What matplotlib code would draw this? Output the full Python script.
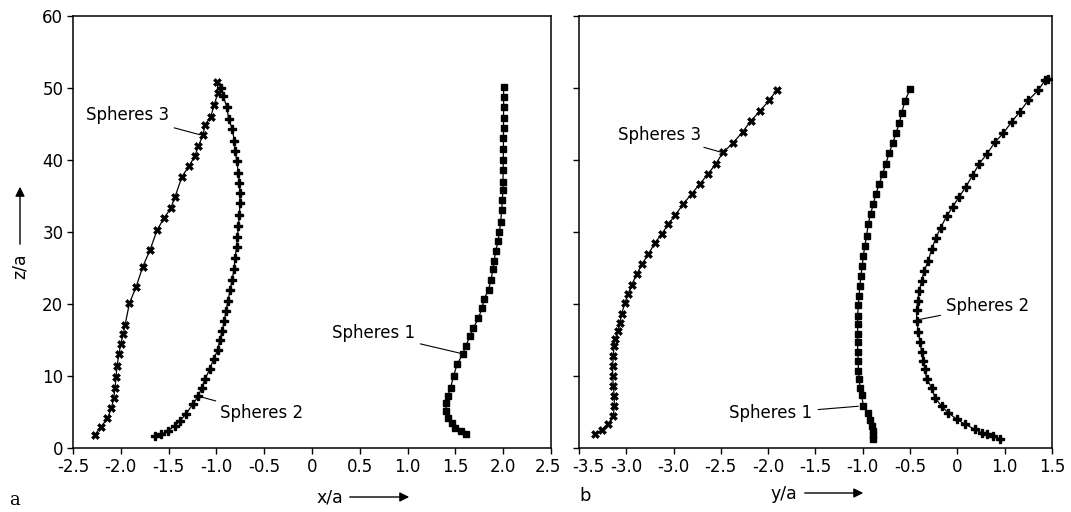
import matplotlib
matplotlib.use("Agg")
import matplotlib.pyplot as plt
import matplotlib.transforms as mtransforms
import numpy as np

# ---------------- data (panel a: x/a vs z/a) ----------------
a_s1_x = [1.61, 1.555, 1.497, 1.462, 1.42, 1.40, 1.406, 1.42, 1.45, 1.48, 1.517, 1.574, 1.61, 1.65,
          1.684, 1.74, 1.778, 1.80, 1.847, 1.873, 1.892, 1.905, 1.92, 1.946, 1.96, 1.973, 1.985, 1.99,
          1.997, 1.997, 2.0, 2.0, 2.002, 2.002, 2.003, 2.003, 2.004, 2.004, 2.004]
a_s1_z = [2.0, 2.3, 2.8, 3.5, 4.2, 5.2, 6.3, 7.2, 8.4, 10.0, 11.6, 13.0, 14.2, 15.5,
          16.6, 18.0, 19.4, 20.7, 22.0, 23.4, 24.8, 26.0, 27.3, 28.7, 30.0, 31.4, 33.1, 34.5,
          35.8, 37.0, 38.6, 40.0, 41.5, 43.0, 44.4, 45.9, 47.3, 48.8, 50.2]

a_s2_x = [-1.64, -1.58, -1.507, -1.433, -1.38, -1.32, -1.246, -1.19, -1.153, -1.12, -1.067, -1.03,
          -0.985, -0.967, -0.94, -0.92, -0.90, -0.88, -0.856, -0.836, -0.816, -0.805, -0.79, -0.78,
          -0.77, -0.76, -0.753, -0.753, -0.76, -0.77, -0.787, -0.805, -0.813, -0.835, -0.873, -0.89,
          -0.93, -0.95]
a_s2_z = [1.6, 1.9, 2.4, 3.1, 3.8, 4.7, 6.1, 7.2, 8.4, 9.6, 11.0, 12.4,
          13.6, 15.0, 16.2, 17.6, 19.0, 20.4, 22.0, 23.4, 24.8, 26.4, 27.9, 29.3,
          30.8, 32.4, 34.0, 35.4, 36.8, 38.2, 39.8, 41.3, 42.7, 44.3, 45.7, 47.3,
          48.9, 50.0]

a_s3_x = [-2.274, -2.21, -2.14, -2.10, -2.075, -2.06, -2.05, -2.04, -2.02, -2.0, -1.975, -1.956,
          -1.91, -1.84, -1.77, -1.695, -1.62, -1.55, -1.478, -1.433, -1.36, -1.29, -1.228, -1.19,
          -1.14, -1.12, -1.06, -1.025, -0.985, -0.99]
a_s3_z = [1.8, 2.9, 4.1, 5.5, 6.9, 8.4, 9.9, 11.4, 13.0, 14.5, 15.8, 17.1,
          20.1, 22.4, 25.2, 27.5, 30.3, 31.9, 33.3, 34.9, 37.7, 39.1, 40.5, 41.9,
          43.5, 44.9, 46.0, 47.6, 49.3, 50.9]

# ---------------- data (panel b: y/a vs z/a) ----------------
b_s1_x = [-0.389, -0.389, -0.395, -0.406, -0.424, -0.442, -0.494, -0.512, -0.53, -0.537, -0.547,
          -0.547, -0.554, -0.554, -0.554, -0.554, -0.554, -0.547, -0.54, -0.53, -0.52, -0.505,
          -0.494, -0.477, -0.459, -0.442, -0.416, -0.389, -0.36, -0.325, -0.29, -0.255, -0.22,
          -0.184, -0.149, -0.114, -0.089, -0.054, -0.001]
b_s1_z = [1.3, 1.8, 2.3, 3.0, 3.9, 4.8, 5.9, 7.3, 8.4, 9.6, 10.7,
          12.1, 13.3, 14.7, 15.8, 17.2, 18.4, 19.8, 21.1, 22.5, 23.9, 25.3,
          26.7, 28.1, 29.5, 31.1, 32.5, 33.9, 35.3, 36.7, 38.1, 39.5, 41.0,
          42.3, 43.7, 45.1, 46.5, 48.2, 49.8]

b_s2_x = [0.95, 0.88, 0.81, 0.757, 0.686, 0.58, 0.493, 0.404, 0.334, 0.263, 0.228, 0.175, 0.157,
          0.14, 0.122, 0.105, 0.087, 0.07, 0.07, 0.08, 0.097, 0.122, 0.15, 0.193, 0.228, 0.274,
          0.323, 0.387, 0.45, 0.52, 0.591, 0.662, 0.732, 0.816, 0.898, 0.985, 1.074, 1.162, 1.25,
          1.356, 1.427, 1.46]
b_s2_z = [1.3, 1.6, 1.9, 2.1, 2.6, 3.3, 4.0, 4.9, 5.8, 7.0, 8.4, 9.6, 11.0,
          12.1, 13.3, 14.7, 16.1, 17.7, 19.1, 20.4, 21.8, 23.2, 24.6, 26.0, 27.6, 29.2,
          30.6, 32.2, 33.5, 34.9, 36.3, 37.9, 39.5, 40.9, 42.5, 43.7, 45.3, 46.7, 48.3,
          49.7, 51.1, 51.2]

b_s3_x = [-3.33, -3.26, -3.19, -3.137, -3.127, -3.127, -3.137, -3.144, -3.144, -3.137, -3.13,
          -3.12, -3.085, -3.067, -3.05, -3.014, -2.98, -2.943, -2.89, -2.837, -2.767, -2.697,
          -2.626, -2.556, -2.485, -2.397, -2.309, -2.221, -2.133, -2.052, -1.975, -1.875, -1.77,
          -1.685, -1.587, -1.488, -1.41]
b_s3_z = [2.0, 2.5, 3.4, 4.4, 5.8, 7.2, 8.6, 10.0, 11.4, 12.8, 14.2,
          15.1, 16.3, 17.4, 18.6, 20.2, 21.4, 22.7, 24.1, 25.5, 26.9, 28.5,
          29.7, 31.1, 32.3, 33.9, 35.3, 36.7, 38.1, 39.5, 41.1, 42.3, 43.9,
          45.4, 46.8, 48.3, 49.7]

a_xticks = [-2.5, -2.0, -1.5, -1.0, -0.5, 0, 0.5, 1.0, 1.5, 2.0, 2.5]
a_xlabels = ["-2.5", "-2.0", "-1.5", "-1.0", "-0.5", "0", "0.5", "1.0", "1.5", "2.0", "2.5"]
b_xticks = [-3.5, -3.0, -2.5, -2.0, -1.5, -1.0, -0.5, 0, 0.5, 1.0, 1.5]
b_xlabels = ["-3.5", "-3.0", "-3.0", "-2.5", "-2.0", "-1.5", "-1.0", "-0.5", "0", "1.0", "1.5"]
z_ticks = [0, 10, 20, 30, 40, 50, 60]
z_labels = ["0", "10", "20", "30", "40", "50", "60"]

# ---------------- figure ----------------
plt.rcParams['font.family'] = ['DejaVu Sans']
fig = plt.figure(figsize=(10.71, 5.12), dpi=100)
axa = fig.add_axes([0.0682, 0.125, 0.4463, 0.84375])
axb = fig.add_axes([0.5406, 0.125, 0.4416, 0.84375])

sq = dict(color='black', lw=0.9, marker='s', ms=4.4, mfc='black', mec='black')
pl = dict(color='black', lw=0.9, marker='P', ms=5.8, mfc='black', mec='black')
xx = dict(color='black', lw=0.9, marker='X', ms=5.2, mfc='black', mec='black', mew=0.4)

axa.plot(a_s1_x, a_s1_z, **sq)
axa.plot(a_s2_x, a_s2_z, **pl)
axa.plot(a_s3_x, a_s3_z, **xx)
axb.plot(b_s1_x, b_s1_z, **sq)
axb.plot(b_s2_x, b_s2_z, **pl)
axb.plot(b_s3_x, b_s3_z, **xx)

for ax in (axa, axb):
    ax.set_ylim(0, 60)
    ax.set_yticks(z_ticks)
    ax.tick_params(direction='out', length=4, width=1, labelsize=12, pad=3)
    for s in ax.spines.values():
        s.set_linewidth(1.1)

axa.set_xlim(-2.5, 2.5)
axa.set_xticks(a_xticks)
axa.set_xticklabels(a_xlabels)
axa.set_yticklabels(z_labels)

axb.set_xlim(-3.5, 1.5)
axb.set_xticks(b_xticks)
axb.set_xticklabels(b_xlabels)
axb.set_yticklabels([])

# nudge the outermost labels apart so they do not collide
lab_a = axa.get_xticklabels()[-1]
lab_a.set_transform(lab_a.get_transform() + mtransforms.ScaledTranslation(-3 / 100, 0, fig.dpi_scale_trans))
lab_b = axb.get_xticklabels()[0]
lab_b.set_transform(lab_b.get_transform() + mtransforms.ScaledTranslation(9 / 100, 0, fig.dpi_scale_trans))

ann = dict(fontsize=12, color='black',
           arrowprops=dict(arrowstyle='-', lw=0.8, color='black', shrinkA=2, shrinkB=0))

axa.annotate("Spheres 3", xy=(-1.17, 43.5), xytext=(-1.93, 46.2), ha='center', va='center', **ann)
axa.annotate("Spheres 2", xy=(-1.19, 7.2), xytext=(-0.53, 4.8), ha='center', va='center', **ann)
axa.annotate("Spheres 1", xy=(1.57, 13.1), xytext=(0.64, 16.0), ha='center', va='center', **ann)

axb.annotate("Spheres 3", xy=(-1.975, 41.0), xytext=(-2.65, 43.5), ha='center', va='center', **ann)
axb.annotate("Spheres 2", xy=(0.08, 17.8), xytext=(0.82, 19.7), ha='center', va='center', **ann)
axb.annotate("Spheres 1", xy=(-0.547, 5.8), xytext=(-1.47, 4.8), ha='center', va='center', **ann)

# panel letters
fig.text(14 / 1071, 1 - 500 / 512, "a", fontsize=13, family='DejaVu Serif', ha='center', va='center')
fig.text(585 / 1071, 1 - 496 / 512, "b", fontsize=13, ha='center', va='center')

# axis labels with arrows
fig.text(330 / 1071, 1 - 498 / 512, "x/a", fontsize=12.5, ha='center', va='center')
fig.add_artist(matplotlib.patches.FancyArrowPatch(
    (347 / 1071, 1 - 497 / 512), (412 / 1071, 1 - 497 / 512), transform=fig.transFigure,
    arrowstyle='-|>', mutation_scale=14, lw=1.0, color='black'))

fig.text(784 / 1071, 1 - 494 / 512, "y/a", fontsize=12.5, ha='center', va='center')
fig.add_artist(matplotlib.patches.FancyArrowPatch(
    (802 / 1071, 1 - 493 / 512), (866 / 1071, 1 - 493 / 512), transform=fig.transFigure,
    arrowstyle='-|>', mutation_scale=14, lw=1.0, color='black'))

fig.text(20 / 1071, 1 - 266 / 512, "z/a", fontsize=12.5, ha='center', va='center', rotation=90)
fig.add_artist(matplotlib.patches.FancyArrowPatch(
    (20 / 1071, 1 - 247 / 512), (20 / 1071, 1 - 184 / 512), transform=fig.transFigure,
    arrowstyle='-|>', mutation_scale=14, lw=1.0, color='black'))

fig.savefig("out.png", dpi=100)
